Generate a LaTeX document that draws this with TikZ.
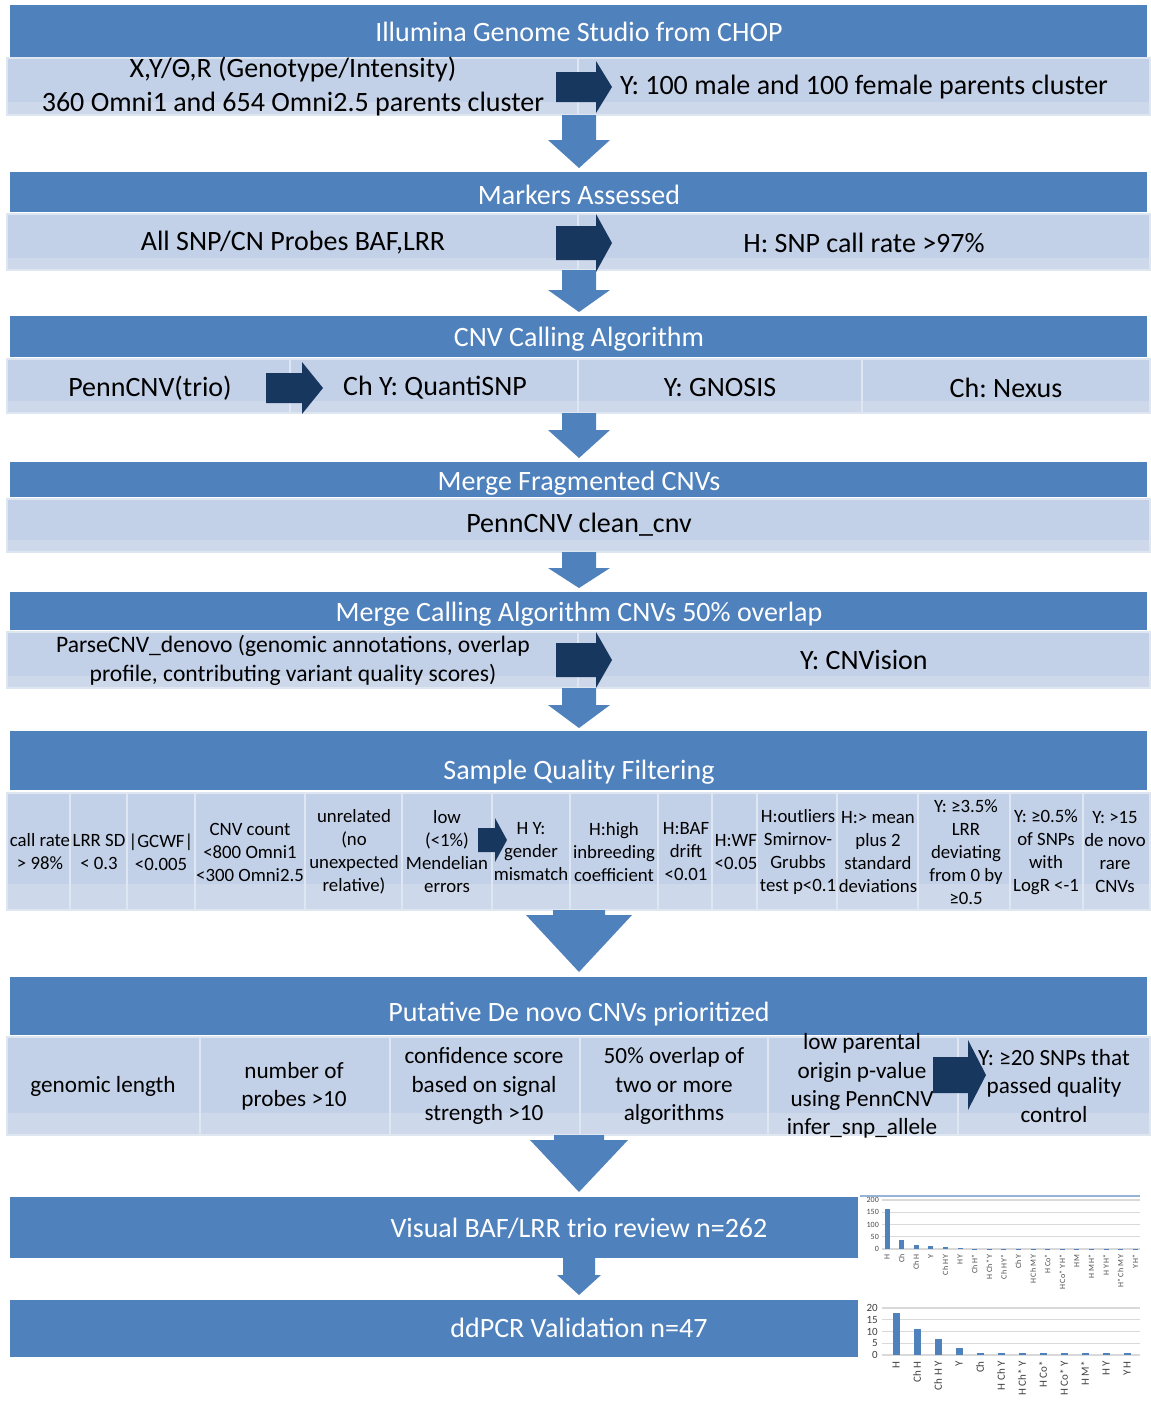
\documentclass[tikz,border=0pt]{standalone}
\usepackage{fontspec}
\setmainfont{Carlito}
\usetikzlibrary{positioning}
\definecolor{hdrblue}{HTML}{4F81BD}
\definecolor{cellblue}{HTML}{C3D1E8}
\definecolor{cellpale}{HTML}{CDD8EA}
\definecolor{navy}{HTML}{17375E}
\definecolor{gridgray}{HTML}{D9D9D9}

\tikzset{
	hdrtext/.style={text=white, font=\fontsize{14}{17}\selectfont, inner sep=0pt},
	celltext/.style={font=\fontsize{14}{17}\selectfont, align=center, inner sep=0pt},
	smalltext/.style={font=\fontsize{9.4}{11.5}\selectfont, align=center, inner sep=0pt},
	midtext/.style={font=\fontsize{11.6}{14.2}\selectfont, align=center, inner sep=0pt},
	ticktext/.style={font=\fontsize{4}{4.5}\selectfont, text=black!70, inner sep=0.4pt},
	tickbig/.style={font=\fontsize{5.5}{6}\selectfont, text=black!75, inner sep=0.4pt},
	cellline/.style={draw=white!45!cellblue, line width=1pt}
}

% one row of light cells: top, bottom, list of left/right edges
\newcommand{\cellrow}[3]{%
	\foreach \xa/\xb in {#3}{%
		\fill[cellblue] (\xa,#1) rectangle (\xb,#2);
		\fill[cellpale] (\xa,{#2-0.22*(#2-#1)}) rectangle (\xb,#2);
		\draw[cellline] (\xa,#1) rectangle (\xb,#2);
	}}

\begin{document}
\frenchspacing
\begin{tikzpicture}[x=0.5pt,y=-0.5pt]
	\useasboundingbox (0,0) rectangle (1151,1410);
	\fill[white] (0,0) rectangle (1151,1410);

	% header bands
	\foreach \yt/\yb in {5/57,172/212,316/357,462/497,592/630,731/790,977/1035}
		\fill[hdrblue] (10,\yt) rectangle (1147,\yb);
	\fill[hdrblue] (10,1197) rectangle (858,1258);
	\fill[hdrblue] (10,1300) rectangle (858,1357);

	% body cells
	\cellrow{58}{115}{7/578,578/1150}
	\cellrow{214}{270}{7/578,578/1150}
	\cellrow{359}{413}{7/290,290/578,578/862,862/1150}
	\cellrow{499}{552}{7/1150}
	\cellrow{632}{688}{7/578,578/1150}
	\cellrow{793}{910}{7/70,70/127,127/195,195/305,305/402,402/492,492/570,570/658,658/712,712/757,757/837,837/918,918/1010,1010/1083,1083/1150}
	\cellrow{1037}{1135}{7/200,200/390,390/580,580/768,768/958,958/1150}

	% block arrows down
	\foreach \yt/\yh/\yp/\s/\h in {115/140/168/17/31,270/290/312/17/31,413/430/458/17/31,552/568/588/17/31,688/705/728/17/31,910/915/972/26/53,1135/1140/1192/25/49,1258/1275/1295/16/22}
		\fill[hdrblue] (579-\s,\yt) -- (579+\s,\yt) -- (579+\s,\yh) -- (579+\h,\yh) -- (579,\yp)
			-- (579-\h,\yh) -- (579-\s,\yh) -- cycle;

	% block arrows right
	\foreach \xl/\xh/\xt/\yc/\s/\h in {556/596/612/87/15/26,556/596/612/243/17/29,266/302/323/388/15/26,556/596/612/660/17/28,478/495/507/840/12/22,933/968/986/1075/18/35}
		\fill[navy] (\xl,\yc-\s) -- (\xh,\yc-\s) -- (\xh,\yc-\h) -- (\xt,\yc) -- (\xh,\yc+\h)
			-- (\xh,\yc+\s) -- (\xl,\yc+\s) -- cycle;

	% headers
	\node[hdrtext] (studio) at (579,32) {Illumina Genome Studio from CHOP};
	\node[hdrtext] (markers) at (579,195) {Markers Assessed};
	\node[hdrtext] (calling) at (579,339) {CNV Calling Algorithm};
	\node[hdrtext] (fragm) at (579,483) {Merge Fragmented CNVs};
	\node[hdrtext] (mergecall) at (579,614) {Merge Calling Algorithm CNVs 50\% overlap};
	\node[hdrtext] (sampleqc) at (579,772) {Sample Quality Filtering};
	\node[hdrtext] (putative) at (579,1014) {Putative De novo CNVs prioritized};
	\node[hdrtext] (visual) at (579,1228) {Visual BAF/LRR trio review n=262};
	\node[hdrtext] (ddpcr) at (579,1328) {ddPCR Validation n=47};

	% cell texts
	\node[celltext] (geno) at (293,87) {X,Y/Θ,R (Genotype/Intensity)\\360 Omni1 and 654 Omni2.5 parents cluster};
	\node[celltext] (ycluster) at (864,87) {Y: 100 male and 100 female parents cluster};
	\node[celltext] (probes) at (293,243) {All SNP/CN Probes BAF,LRR};
	\node[celltext] (callrate) at (864,243) {H: SNP call rate >97\%};
	\node[celltext] (penntrio) at (150,388) {PennCNV(trio)};
	\node[celltext] (quanti) at (435,388) {Ch Y: QuantiSNP};
	\node[celltext] (gnosis) at (720,388) {Y: GNOSIS};
	\node[celltext] (nexus) at (1006,388) {Ch: Nexus};
	\node[celltext] (clean) at (579,525) {PennCNV clean\_cnv};
	\node[celltext, font=\fontsize{11.8}{14.5}\selectfont] (parse) at (293,660) {ParseCNV\_denovo (genomic annotations, overlap\\profile, contributing variant quality scores)};
	\node[celltext] (cnvision) at (864,660) {Y: CNVision};

	\foreach \x/\t [count=\i] in {40/{call rate\\> 98\%},99/{LRR SD\\< 0.3},161/{|GCWF|\\<0.005},
		250/{CNV count\\<800 Omni1\\<300 Omni2.5},354/{unrelated\\(no\\unexpected\\relative)},
		447/{low\\(<1\%)\\Mendelian\\errors},531/{H Y:\\gender\\mismatch},614/{H:high\\inbreeding\\coefficient},
		686/{H:BAF\\drift\\<0.01},736/{H:WF\\<0.05},798/{H:outliers\\Smirnov-\\Grubbs\\test p<0.1},
		878/{H:> mean\\plus 2\\standard\\deviations},966/{Y: ≥3.5\%\\LRR\\deviating\\from 0 by\\≥0.5},
		1046/{Y: ≥0.5\%\\of SNPs\\with\\LogR <-1},1115/{Y: >15\\de novo\\rare\\CNVs}}
		\node[smalltext] (qc\i) at (\x,852) {\t};

	\foreach \x/\t [count=\i] in {103/{genomic length},294/{number of\\probes >10},
		484/{confidence score\\based on signal\\strength >10},674/{50\% overlap of\\two or more\\algorithms},
		862/{low parental\\origin p-value\\using PennCNV\\infer\_snp\_allele},1054/{Y: ≥20 SNPs that\\passed quality\\control}}
		\node[midtext] (prio\i) at (\x,1086) {\t};

	% chart of reviewed calls
	\draw[hdrblue!60, line width=1pt] (860,1196) -- (1140,1196);
	\foreach \v in {0,50,...,200}{
		\draw[gridgray, line width=0.6pt] (882,{1249-\v*0.245}) -- (1140,{1249-\v*0.245});
		\node[ticktext, anchor=east] (rv\v) at (880,{1249-\v*0.245}) {\v};
	}
	\foreach \v [count=\i] in {163,38,18,12,8,3,1,1,1,1,1,1,1,1,1,1,1,1}
		\fill[hdrblue] ({887+14.6*(\i-1)-2.5},1249) rectangle ++(5,{-\v*0.245});
	\foreach \t [count=\i] in {H,Ch,Ch H,Y,Ch H Y,H Y,Ch H*,H Ch* Y,Ch H Y*,Ch Y,H Ch M Y,H Co*,H Co* Y H*,H M,H M H*,H Y H*,H* Ch M Y,Y H*}
		\node[ticktext, rotate=90, anchor=east] (rl\i) at ({887+14.6*(\i-1)},1253) {\t};

	% chart of validated calls
	\foreach \v in {0,5,...,20}{
		\draw[gridgray, line width=0.6pt] (882,{1355-\v*2.35}) -- (1140,{1355-\v*2.35});
		\node[tickbig, anchor=east] (dv\v) at (879,{1355-\v*2.35}) {\v};
	}
	\foreach \v [count=\i] in {18,11,7,3,1,1,1,1,1,1,1,1}
		\fill[hdrblue] ({896+21*(\i-1)-3.5},1355) rectangle ++(7,{-\v*2.35});
	\foreach \t [count=\i] in {H,Ch H,Ch H Y,Y,Ch,H Ch Y,H Ch* Y,H Co*,H Co* Y,H M*,H Y,Y H}
		\node[tickbig, rotate=90, anchor=east] (dl\i) at ({896+21*(\i-1)},1360) {\t};
\end{tikzpicture}
\end{document}
